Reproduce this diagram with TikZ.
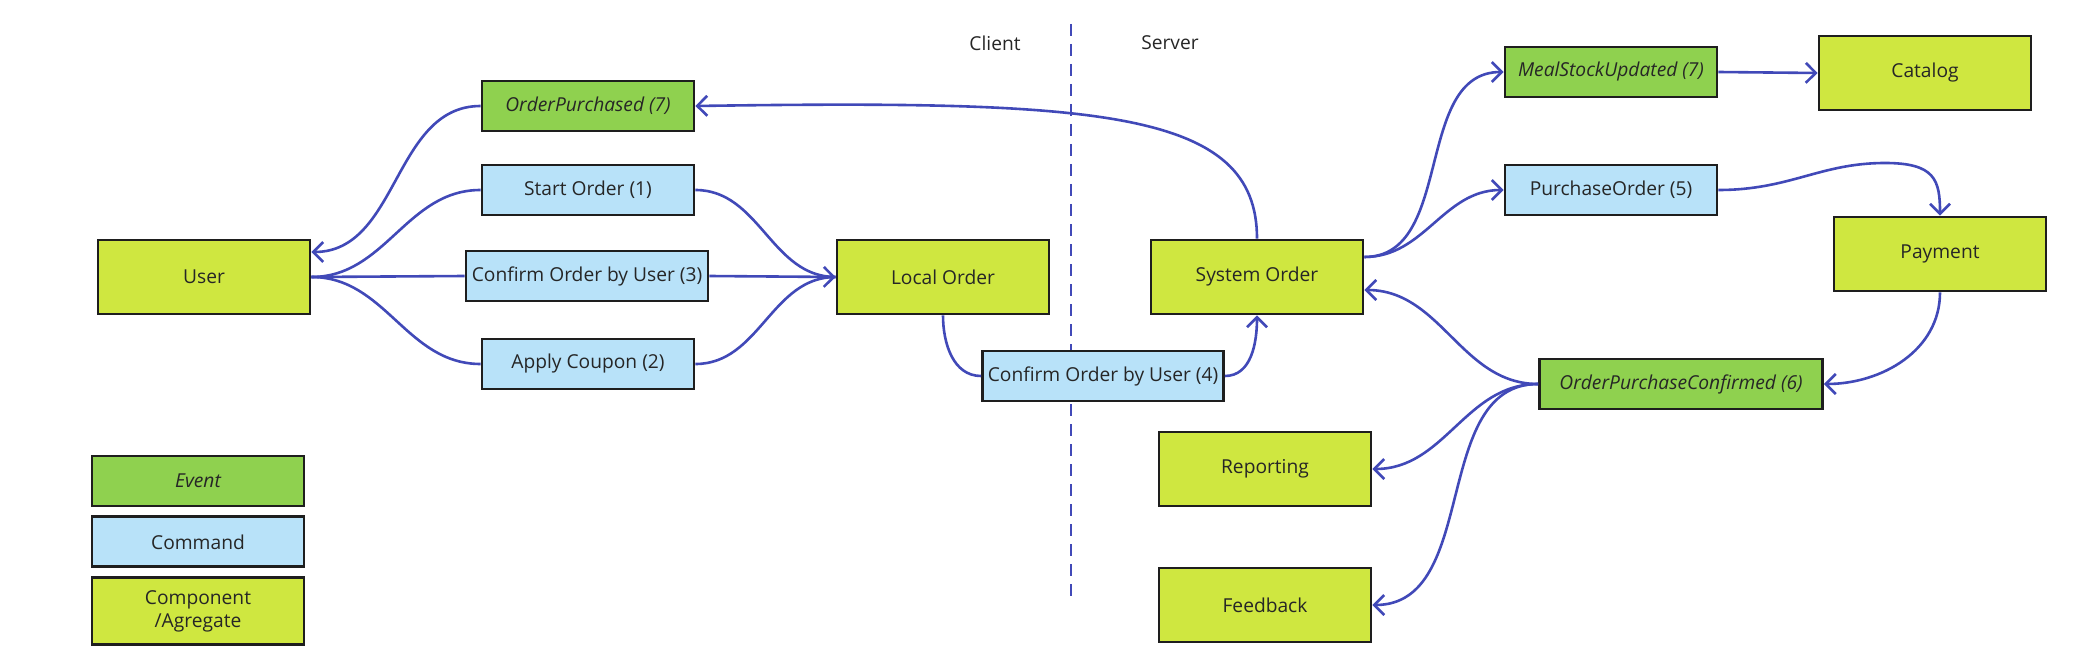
\documentclass[tikz,border=0pt]{standalone}
\usepackage{fontspec}
\setmainfont{Open Sans}
\usetikzlibrary{arrows.meta,positioning}
\definecolor{esgreen}{HTML}{8FD14F}
\definecolor{esblue}{HTML}{B8E2F9}
\definecolor{eslime}{HTML}{CFE740}
\definecolor{esline}{HTML}{4149B8}
\definecolor{esborder}{HTML}{1E1E1E}

\begin{document}
\begin{tikzpicture}[x=0.5pt, y=-0.5pt,
    node distance=4pt,
    every node/.style={draw=esborder, line width=1.4pt, text=black!85, text centered, align=center, inner sep=1pt, font=\fontsize{9.6}{11.5}\selectfont},
    event/.style={fill=esgreen, minimum width=106pt, minimum height=25pt, font=\fontsize{9.6}{11.5}\selectfont\itshape},
    command/.style={fill=esblue, minimum width=106pt, minimum height=25pt},
    component/.style={fill=eslime, minimum width=106pt, minimum height=37pt},
    side/.style={draw=none},
    flow/.style={draw=esline, line width=1.3pt, -{Straight Barb[length=5pt,width=10pt]}},
    link/.style={draw=esline, line width=1.3pt}
  ]
    \useasboundingbox (0,0) rectangle (2084,658);

    % client / server split
    \node[side] (client) at (995,43) {Client};
    \node[side] (server) at (1170,43) {Server};
    \coordinate (divtop) at (1071,24);
    \coordinate (divbot) at (1071,601);
    \draw[esline, line width=1.3pt, dash pattern=on 6pt off 4pt] (divtop) -- (divbot);

    % client side
    \node[component] (user) at (204,277) {User};
    \node[event] (purchased) at (588,106) {OrderPurchased (7)};
    \node[command] (start) at (588,190) {Start Order (1)};
    \node[command, minimum width=121pt] (confirmuser) at (587,276) {Confirm Order by User (3)};
    \node[command] (coupon) at (588,364) {Apply Coupon (2)};
    \node[component] (local) at (943,277) {Local Order};
    \node[command, minimum width=120.5pt] (confirmsync) at (1103,376) {Confirm Order by User (4)};

    % server side
    \node[component] (system) at (1257,277) {System Order};
    \node[event] (stock) at (1611,72) {MealStockUpdated (7)};
    \node[component] (catalog) at (1925,73) {Catalog};
    \node[command] (purchase) at (1611,190) {PurchaseOrder (5)};
    \node[component] (payment) at (1940,254) {Payment};
    \node[event, minimum width=141.5pt] (confirmed) at (1681,384) {OrderPurchaseConfirmed (6)};
    \node[component] (reporting) at (1265,469) {Reporting};
    \node[component] (feedback) at (1265,605) {Feedback};

    % legend
    \node[event] (legevent) at (198,481) {Event};
    \node[command, below=of legevent] (legcommand) {Command};
    \node[component, minimum height=33.5pt, below=of legcommand] (legcomponent) {Component\\/Agregate};

    % connectors
    \draw[flow] (purchased.west) to[out=180,in=0] ([yshift=12.5pt]user.east);
    \draw[link] (user.east) to[out=0,in=180] (start.west);
    \draw[link] (user.east) -- (confirmuser.west);
    \draw[link] (user.east) to[out=0,in=180] (coupon.west);
    \draw[link] (start.east) to[out=0,in=180] (local.west);
    \draw[link] (coupon.east) to[out=0,in=180] (local.west);
    \draw[flow] (confirmuser.east) -- (local.west);
    \draw[link] (local.south) to[out=-90,in=180] (confirmsync.west);
    \draw[flow] (confirmsync.east) to[out=0,in=-90] (system.south);
    \draw[flow] (system.north) .. controls (1257,110) and (1100,100) .. (purchased.east);
    \draw[flow] ([yshift=10pt]system.east) to[out=0,in=180] (stock.west);
    \draw[flow] ([yshift=10pt]system.east) to[out=0,in=180] (purchase.west);
    \draw[flow] (stock.east) -- (catalog.west);
    \draw[flow] (purchase.east) .. controls (1790,190) and (1820,163) .. (1885,163) .. controls (1935,163) and (1940,180) .. (payment.north);
    \draw[flow] (payment.south) to[out=-90,in=0] (confirmed.east);
    \draw[flow] (confirmed.west) to[out=180,in=0] ([yshift=-6.5pt]system.east);
    \draw[flow] (confirmed.west) to[out=180,in=0] (reporting.east);
    \draw[flow] (confirmed.west) to[out=180,in=0] (feedback.east);
\end{tikzpicture}
\end{document}
